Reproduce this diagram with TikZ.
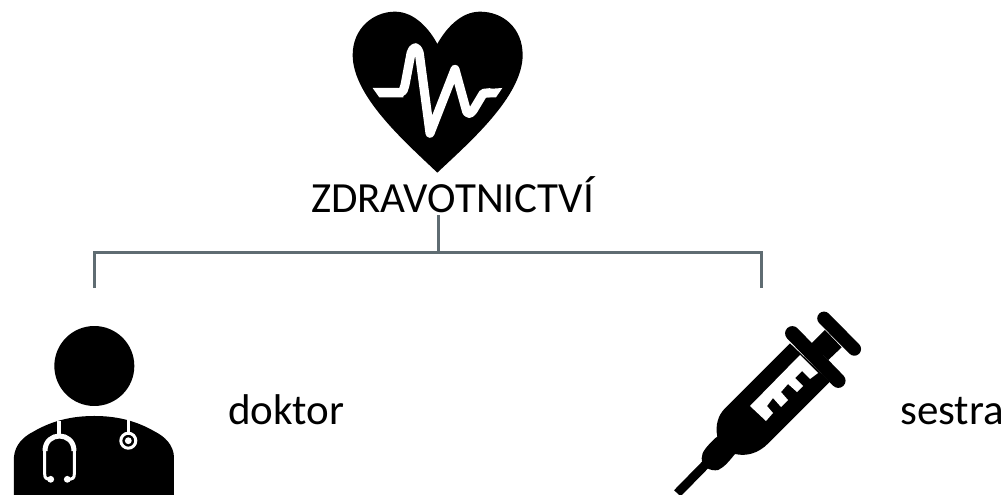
\documentclass[tikz,border=0pt]{standalone}
\usepackage{fontspec}
\setmainfont{Carlito}
\definecolor{linegrey}{HTML}{5F6C72}
\tikzset{
  lbl/.style={inner sep=0pt,font=\fontsize{43}{46}\selectfont,text=black},
  conn/.style={draw=linegrey,line width=3pt},
  wht/.style={draw=white,line join=round},
  zoomA/.style={shift={(340,0)},x=0.3333pt,y=-0.3333pt},
  zoomB/.style={shift={(0,320)},x=0.3333pt,y=-0.3333pt},
  zoomC/.style={shift={(660,310)},x=0.3333pt,y=-0.3333pt}
}
\begin{document}
\begin{tikzpicture}[x=1pt,y=-1pt]
\useasboundingbox (0,0) rectangle (1005,495);
% heart
\begin{scope}[zoomA]
\fill (292,518) .. controls (200,430) and (38,290) .. (38,165)
  .. controls (38,85) and (100,35) .. (165,35)
  .. controls (225,35) and (270,90) .. (292,132)
  .. controls (315,90) and (360,35) .. (420,35)
  .. controls (490,35) and (548,85) .. (548,165)
  .. controls (548,290) and (385,430) .. (292,518) -- cycle;
\fill[white] (98,264) -- (175,264) -- (190,270) -- (190,292) -- (118,292) -- cycle;
\fill[white] (430,268) -- (487,264) -- (468,292) -- (420,292) -- cycle;
\draw[wht,line width=9pt,line cap=round] (180,278) .. controls (190,278) and (190,270) .. (195,255)
  -- (213,160) .. controls (222,135) and (232,140) .. (238,160) -- (270,400)
  -- (345,208) -- (380,335) .. controls (388,345) and (392,340) .. (400,330) -- (430,280) -- (450,278);
\end{scope}
% connectors
\coordinate (root) at (438,215);
\coordinate (bar) at (438,252);
\coordinate (lt) at (94,252);
\coordinate (rt) at (761,252);
\coordinate (le) at (94,288);
\coordinate (re) at (761,288);
\draw[conn] (root) -- (bar);
\draw[conn] (le) -- (lt) -- (rt) -- (re);
% labels
\node[lbl] (title) at (452.5,195) {ZDRAVOTNICTVÍ};
\node[lbl,anchor=base west] (doktor) at (228,424) {doktor};
\node[lbl,anchor=base west] (sestra) at (900,424) {sestra};
% doctor
\begin{scope}[zoomB]
\fill (283,138) circle[radius=120];
\fill (42,525) -- (42,410) .. controls (45,375) and (70,350) .. (100,335)
  .. controls (160,300) and (220,288) .. (283,288)
  .. controls (345,288) and (405,300) .. (465,335)
  .. controls (495,350) and (520,375) .. (522,410) -- (522,525) -- cycle;
\end{scope}
\draw[wht,line width=4pt] (59.3,421) -- (59.3,437);
\draw[wht,line width=5pt] (45,451) .. controls (45,431) and (74,431) .. (74,451);
\draw[wht,line width=3pt] (44.7,449) -- (44.7,474) .. controls (44.7,478) and (46,479.3) .. (50.7,479.3);
\draw[wht,line width=3pt] (74.3,449) -- (74.3,474) .. controls (74.3,478) and (73,479.3) .. (67.3,479.3);
\fill[white] (50.7,479.3) circle[radius=3.4];
\fill[white] (67.3,479.3) circle[radius=3.4];
\draw[wht,line width=3.5pt] (128.3,420) -- (128.3,433);
\draw[white,line width=3pt] (128.3,440.7) circle[radius=7.5];
\fill[white] (128.3,440.7) circle[radius=3.4];
% syringe
\begin{scope}[zoomC]
\draw[line width=9pt] (52,550) -- (150,450);
\fill (165,385) .. controls (140,410) and (125,425) .. (125,445)
  .. controls (125,470) and (150,485) .. (175,480)
  .. controls (195,470) and (210,450) .. (225,432)
  .. controls (260,440) and (295,430) .. (325,400)
  -- (510,215) -- (390,100) -- (195,295)
  .. controls (175,315) and (165,345) .. (172,380) -- cycle;
\draw[line width=14.5pt,line cap=round] (397,70) -- (535,212);
\draw[line width=13.5pt,line cap=round] (492,25) -- (583,117);
\fill (455,100) -- (495,60) -- (545,112) -- (505,150) -- cycle;
\end{scope}
\fill[white] (800,355) -- (818,373) -- (810,379) -- (802,371) -- (795,378) -- (803,386) -- (797,392)
 -- (788,384) -- (781,392) -- (788,400) -- (781,407) -- (773,398) -- (767,406) -- (773,413) -- (766,421) -- (750,406) -- cycle;
\end{tikzpicture}
\end{document}
